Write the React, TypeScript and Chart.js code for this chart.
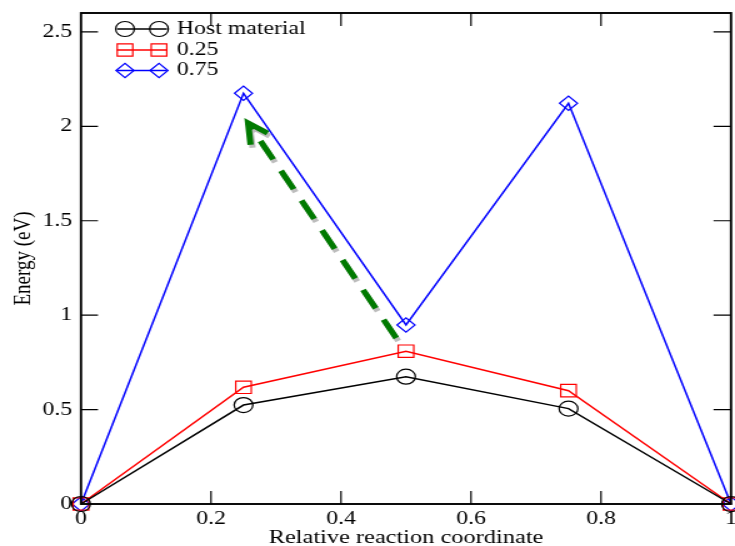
import React, { useEffect, useRef } from 'react';
import { Chart, registerables } from 'chart.js';

Chart.register(...registerables);

// Reference is horizontally stretched: draw on a narrower bitmap and stretch it with CSS.
const STRETCH = 1.25;
const VIEW_W = 735;
const VIEW_H = 546;
const CANVAS_W = Math.round(VIEW_W / STRETCH);

const FONT = "'Liberation Serif', 'Times New Roman', serif";

const reactionCoord = [0, 0.25, 0.5, 0.75, 1];
const hostEnergy = [0, 0.524, 0.674, 0.505, 0];
const energy025 = [0, 0.618, 0.809, 0.6, 0];
const energy075 = [0, 2.175, 0.948, 2.122, 0];
const seriesLabels = ['Host material', '0.25', '0.75'];
const seriesColors = ['#000000', '#ff0000', '#0000ff'];
const seriesMarkers = ['circle', 'rect', 'rectRot'];
const markerRadius = [7.5, 8.8, 7.2];

const arrowFrom = [0.485, 0.879];
const arrowTo = [0.257, 2.018];

const fmt = (v: number) => String(Math.round(v * 100) / 100);

function drawMarker(ctx: CanvasRenderingContext2D, style: string, x: number, y: number, r: number) {
  ctx.beginPath();
  if (style === 'circle') {
    ctx.arc(x, y, r, 0, Math.PI * 2);
  } else if (style === 'rect') {
    const s = Math.SQRT1_2 * r;
    ctx.rect(x - s, y - s, 2 * s, 2 * s);
  } else {
    ctx.moveTo(x - r, y);
    ctx.lineTo(x, y - r);
    ctx.lineTo(x + r, y);
    ctx.lineTo(x, y + r);
    ctx.closePath();
  }
  ctx.stroke();
}

const framePlugin = {
  id: 'graceFrame',
  afterDraw(chart: any) {
    const { ctx, chartArea: a, scales } = chart;
    ctx.save();
    ctx.strokeStyle = '#000';
    // inward ticks
    ctx.lineWidth = 1.2;
    ctx.beginPath();
    scales.y.ticks.forEach((t: any) => {
      if (t.value <= 0) return;
      const py = scales.y.getPixelForValue(t.value);
      ctx.moveTo(a.left, py);
      ctx.lineTo(a.left + 13.6, py);
      ctx.moveTo(a.right, py);
      ctx.lineTo(a.right - 14, py);
    });
    scales.x.ticks.forEach((t: any) => {
      if (t.value <= 0 || t.value >= 1) return;
      const px = scales.x.getPixelForValue(t.value);
      ctx.moveTo(px, a.bottom);
      ctx.lineTo(px, a.bottom - 13);
      ctx.moveTo(px, a.top);
      ctx.lineTo(px, a.top + 13);
    });
    ctx.stroke();
    // frame
    ctx.lineWidth = 1.9;
    ctx.strokeRect(a.left, a.top, a.right - a.left, a.bottom - a.top);

    // arrow
    const x0 = scales.x.getPixelForValue(arrowFrom[0]);
    const y0 = scales.y.getPixelForValue(arrowFrom[1]);
    const x1 = scales.x.getPixelForValue(arrowTo[0]);
    const y1 = scales.y.getPixelForValue(arrowTo[1]);
    const ang = Math.atan2(y0 - y1, (x0 - x1) * STRETCH);
    const armLen = 22;
    const spread = (28 * Math.PI) / 180;
    const arm = (d: number) => [x1 + (Math.cos(ang + d) * armLen) / STRETCH, y1 + Math.sin(ang + d) * armLen];
    const drawArrow = (ox: number, oy: number, color: string) => {
      ctx.save();
      ctx.strokeStyle = color;
      ctx.lineWidth = 5;
      ctx.lineCap = 'butt';
      ctx.setLineDash([21, 13]);
      ctx.beginPath();
      ctx.moveTo(x0 + ox, y0 + oy);
      ctx.lineTo(x1 + ox, y1 + oy);
      ctx.stroke();
      ctx.setLineDash([]);
      ctx.lineJoin = 'miter';
      const a1 = arm(spread);
      const a2 = arm(-spread);
      ctx.beginPath();
      ctx.moveTo(a1[0] + ox, a1[1] + oy);
      ctx.lineTo(x1 + ox, y1 + oy);
      ctx.lineTo(a2[0] + ox, a2[1] + oy);
      ctx.stroke();
      ctx.restore();
    };
    drawArrow(1.6, 3, '#bdbdbd');
    drawArrow(0, 0, '#007a00');

    // legend
    const rows = [29, 50, 70.5];
    chart.data.datasets.forEach((ds: any, i: number) => {
      const y = rows[i];
      ctx.strokeStyle = ds.borderColor;
      ctx.lineWidth = 1.5;
      ctx.beginPath();
      ctx.moveTo(117 / STRETCH, y);
      ctx.lineTo(167 / STRETCH, y);
      ctx.stroke();
      ctx.lineWidth = 1.2;
      drawMarker(ctx, ds.pointStyle, 125 / STRETCH, y, ds.pointRadius);
      drawMarker(ctx, ds.pointStyle, 159 / STRETCH, y, ds.pointRadius);
      ctx.fillStyle = '#000';
      ctx.font = `19px ${FONT}`;
      ctx.textAlign = 'left';
      ctx.textBaseline = 'middle';
      ctx.fillText(ds.label, 177 / STRETCH, y);
    });
    ctx.restore();
  },
};

export default function App() {
  const ref = useRef<HTMLCanvasElement | null>(null);

  useEffect(() => {
    if (!ref.current) return;
    const seriesValues = [hostEnergy, energy025, energy075];
    const datasets = seriesValues.map((vals, i) => ({
      label: seriesLabels[i],
      data: reactionCoord.map((x, j) => ({ x, y: vals[j] })),
      borderColor: seriesColors[i],
      backgroundColor: 'rgba(0,0,0,0)',
      borderWidth: 1.5,
      pointStyle: seriesMarkers[i],
      pointRadius: markerRadius[i],
      pointBorderWidth: 1.2,
      pointBorderColor: seriesColors[i],
      pointBackgroundColor: 'rgba(0,0,0,0)',
      tension: 0,
      fill: false,
      clip: false,
    }));

    const chart = new Chart(ref.current, {
      type: 'line',
      data: { datasets },
      plugins: [framePlugin],
      options: {
        animation: false,
        responsive: false,
        maintainAspectRatio: false,
        events: [],
        layout: {
          autoPadding: false,
          padding: { top: 13, right: CANVAS_W - 731 / STRETCH, left: 0, bottom: 0 },
        },
        plugins: { legend: { display: false }, tooltip: { enabled: false } },
        scales: {
          x: {
            type: 'linear',
            min: 0,
            max: 1,
            border: { display: false },
            grid: { display: false, drawTicks: false },
            ticks: {
              stepSize: 0.2,
              autoSkip: false,
              maxRotation: 0,
              padding: 4,
              color: '#000',
              font: { family: FONT, size: 19 },
              callback: (v: any) => fmt(Number(v)),
            },
            title: {
              display: true,
              text: 'Relative reaction coordinate',
              color: '#000',
              font: { family: FONT, size: 19.5, lineHeight: 1 },
              padding: { top: 0, bottom: -2 },
            },
            afterFit: (s: any) => {
              s.height = VIEW_H - 504;
              s.paddingLeft = 0;
              s.paddingRight = 0;
            },
          },
          y: {
            type: 'linear',
            min: 0,
            max: 2.6,
            border: { display: false },
            grid: { display: false, drawTicks: false },
            ticks: {
              stepSize: 0.5,
              includeBounds: false,
              autoSkip: false,
              padding: 7,
              color: '#000',
              font: { family: FONT, size: 19 },
              callback: (v: any) => fmt(Number(v)),
            },
            title: {
              display: true,
              text: 'Energy (eV)',
              color: '#000',
              font: { family: FONT, size: 19, lineHeight: 1.2 },
              padding: { top: 8, bottom: 0 },
            },
            afterFit: (s: any) => {
              s.width = 81 / STRETCH;
              s.paddingTop = 0;
              s.paddingBottom = 0;
            },
          },
        },
      },
    } as any);
    return () => chart.destroy();
  }, []);

  return (
    <div style={{ position: 'absolute', left: 0, top: 0, width: VIEW_W, height: VIEW_H, background: '#fff' }}>
      <canvas
        ref={ref}
        width={CANVAS_W}
        height={VIEW_H}
        style={{ display: 'block', width: VIEW_W, height: VIEW_H }}
      />
    </div>
  );
}
